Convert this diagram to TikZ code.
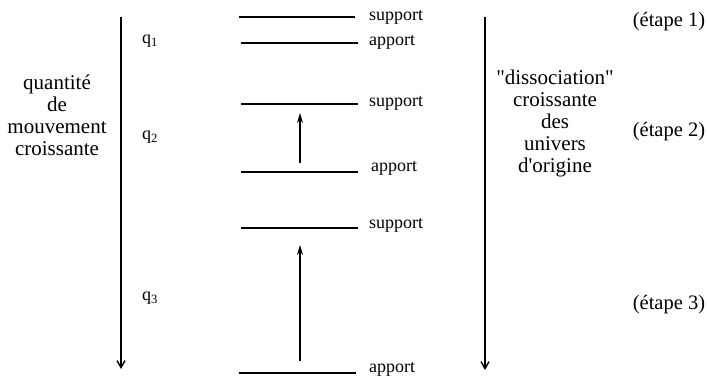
\documentclass[tikz,border=0pt]{standalone}
\usepackage{fontspec}
\setmainfont{Liberation Serif}
\usetikzlibrary{arrows.meta,positioning}
\tikzset{
  level/.style={line width=1.5pt},
  lbl/.style={font=\fontsize{18}{20}\selectfont, inner sep=0pt},
  big/.style={font=\fontsize{21}{22}\selectfont, align=center, inner sep=0pt},
  stage/.style={font=\fontsize{20.5}{22}\selectfont, inner sep=0pt},
  axis/.style={line width=1.4pt, -{Straight Barb[length=7pt,width=8pt]}},
  rise/.style={line width=1.4pt, -{Stealth[length=10pt,width=6pt]}}
}
\begin{document}
\begin{tikzpicture}[x=1pt,y=-1pt]
  \useasboundingbox (0,0) rectangle (707,379);
  %Levels:
  \coordinate (s1w) at (239,17);  \coordinate (s1e) at (355,17);
  \coordinate (a1w) at (241,43);  \coordinate (a1e) at (358,43);
  \coordinate (s2w) at (241,104); \coordinate (s2e) at (358,104);
  \coordinate (a2w) at (241,172); \coordinate (a2e) at (358,172);
  \coordinate (s3w) at (241,228); \coordinate (s3e) at (358,228);
  \coordinate (a3w) at (239,373); \coordinate (a3e) at (356,373);
  \draw[level] (s1w) -- (s1e);
  \draw[level] (a1w) -- (a1e);
  \draw[level] (s2w) -- (s2e);
  \draw[level] (a2w) -- (a2e);
  \draw[level] (s3w) -- (s3e);
  \draw[level] (a3w) -- (a3e);
  %Labels:
  \node[lbl, right=14pt of s1e, anchor=base west, yshift=-4pt] (ls1) {support};
  \node[lbl, right=11pt of a1e, anchor=base west, yshift=-3pt] (la1) {apport};
  \node[lbl, right=11pt of s2e, anchor=base west, yshift=-3pt] (ls2) {support};
  \node[lbl, right=13pt of a2e, anchor=base west, yshift=0pt] (la2) {apport};
  \node[lbl, right=11pt of s3e, anchor=base west, yshift=-1pt] (ls3) {support};
  \node[lbl, right=13pt of a3e, anchor=base west, yshift=0pt] (la3) {apport};
  %Rises:
  \coordinate (r1b) at (300,163); \coordinate (r1t) at (300,113);
  \coordinate (r2b) at (300,361); \coordinate (r2t) at (300,245);
  \draw[rise] (r1b) -- (r1t);
  \draw[rise] (r2b) -- (r2t);
  %Axes:
  \coordinate (qt) at (121,17);  \coordinate (qb) at (121,369);
  \coordinate (dt) at (485,17);  \coordinate (db) at (485,370);
  \draw[axis] (qt) -- (qb);
  \draw[axis] (dt) -- (db);
  \node[big] (qtext) at (57,115) {quantité\\de\\mouvement\\croissante};
  \node[big] (dtext) at (555,123) {\textquotedbl dissociation\textquotedbl\\croissante\\des\\univers\\d\textquotesingle origine};
  \node[lbl, anchor=west] (q1) at (142,41) {q\textsubscript{1}};
  \node[lbl, anchor=west] (q2) at (142,137) {q\textsubscript{2}};
  \node[lbl, anchor=west] (q3) at (142,298) {q\textsubscript{3}};
  %Stages:
  \node[stage] (e1) at (669,22) {(étape 1)};
  \node[stage] (e2) at (669,132) {(étape 2)};
  \node[stage] (e3) at (669,305) {(étape 3)};
\end{tikzpicture}
\end{document}
